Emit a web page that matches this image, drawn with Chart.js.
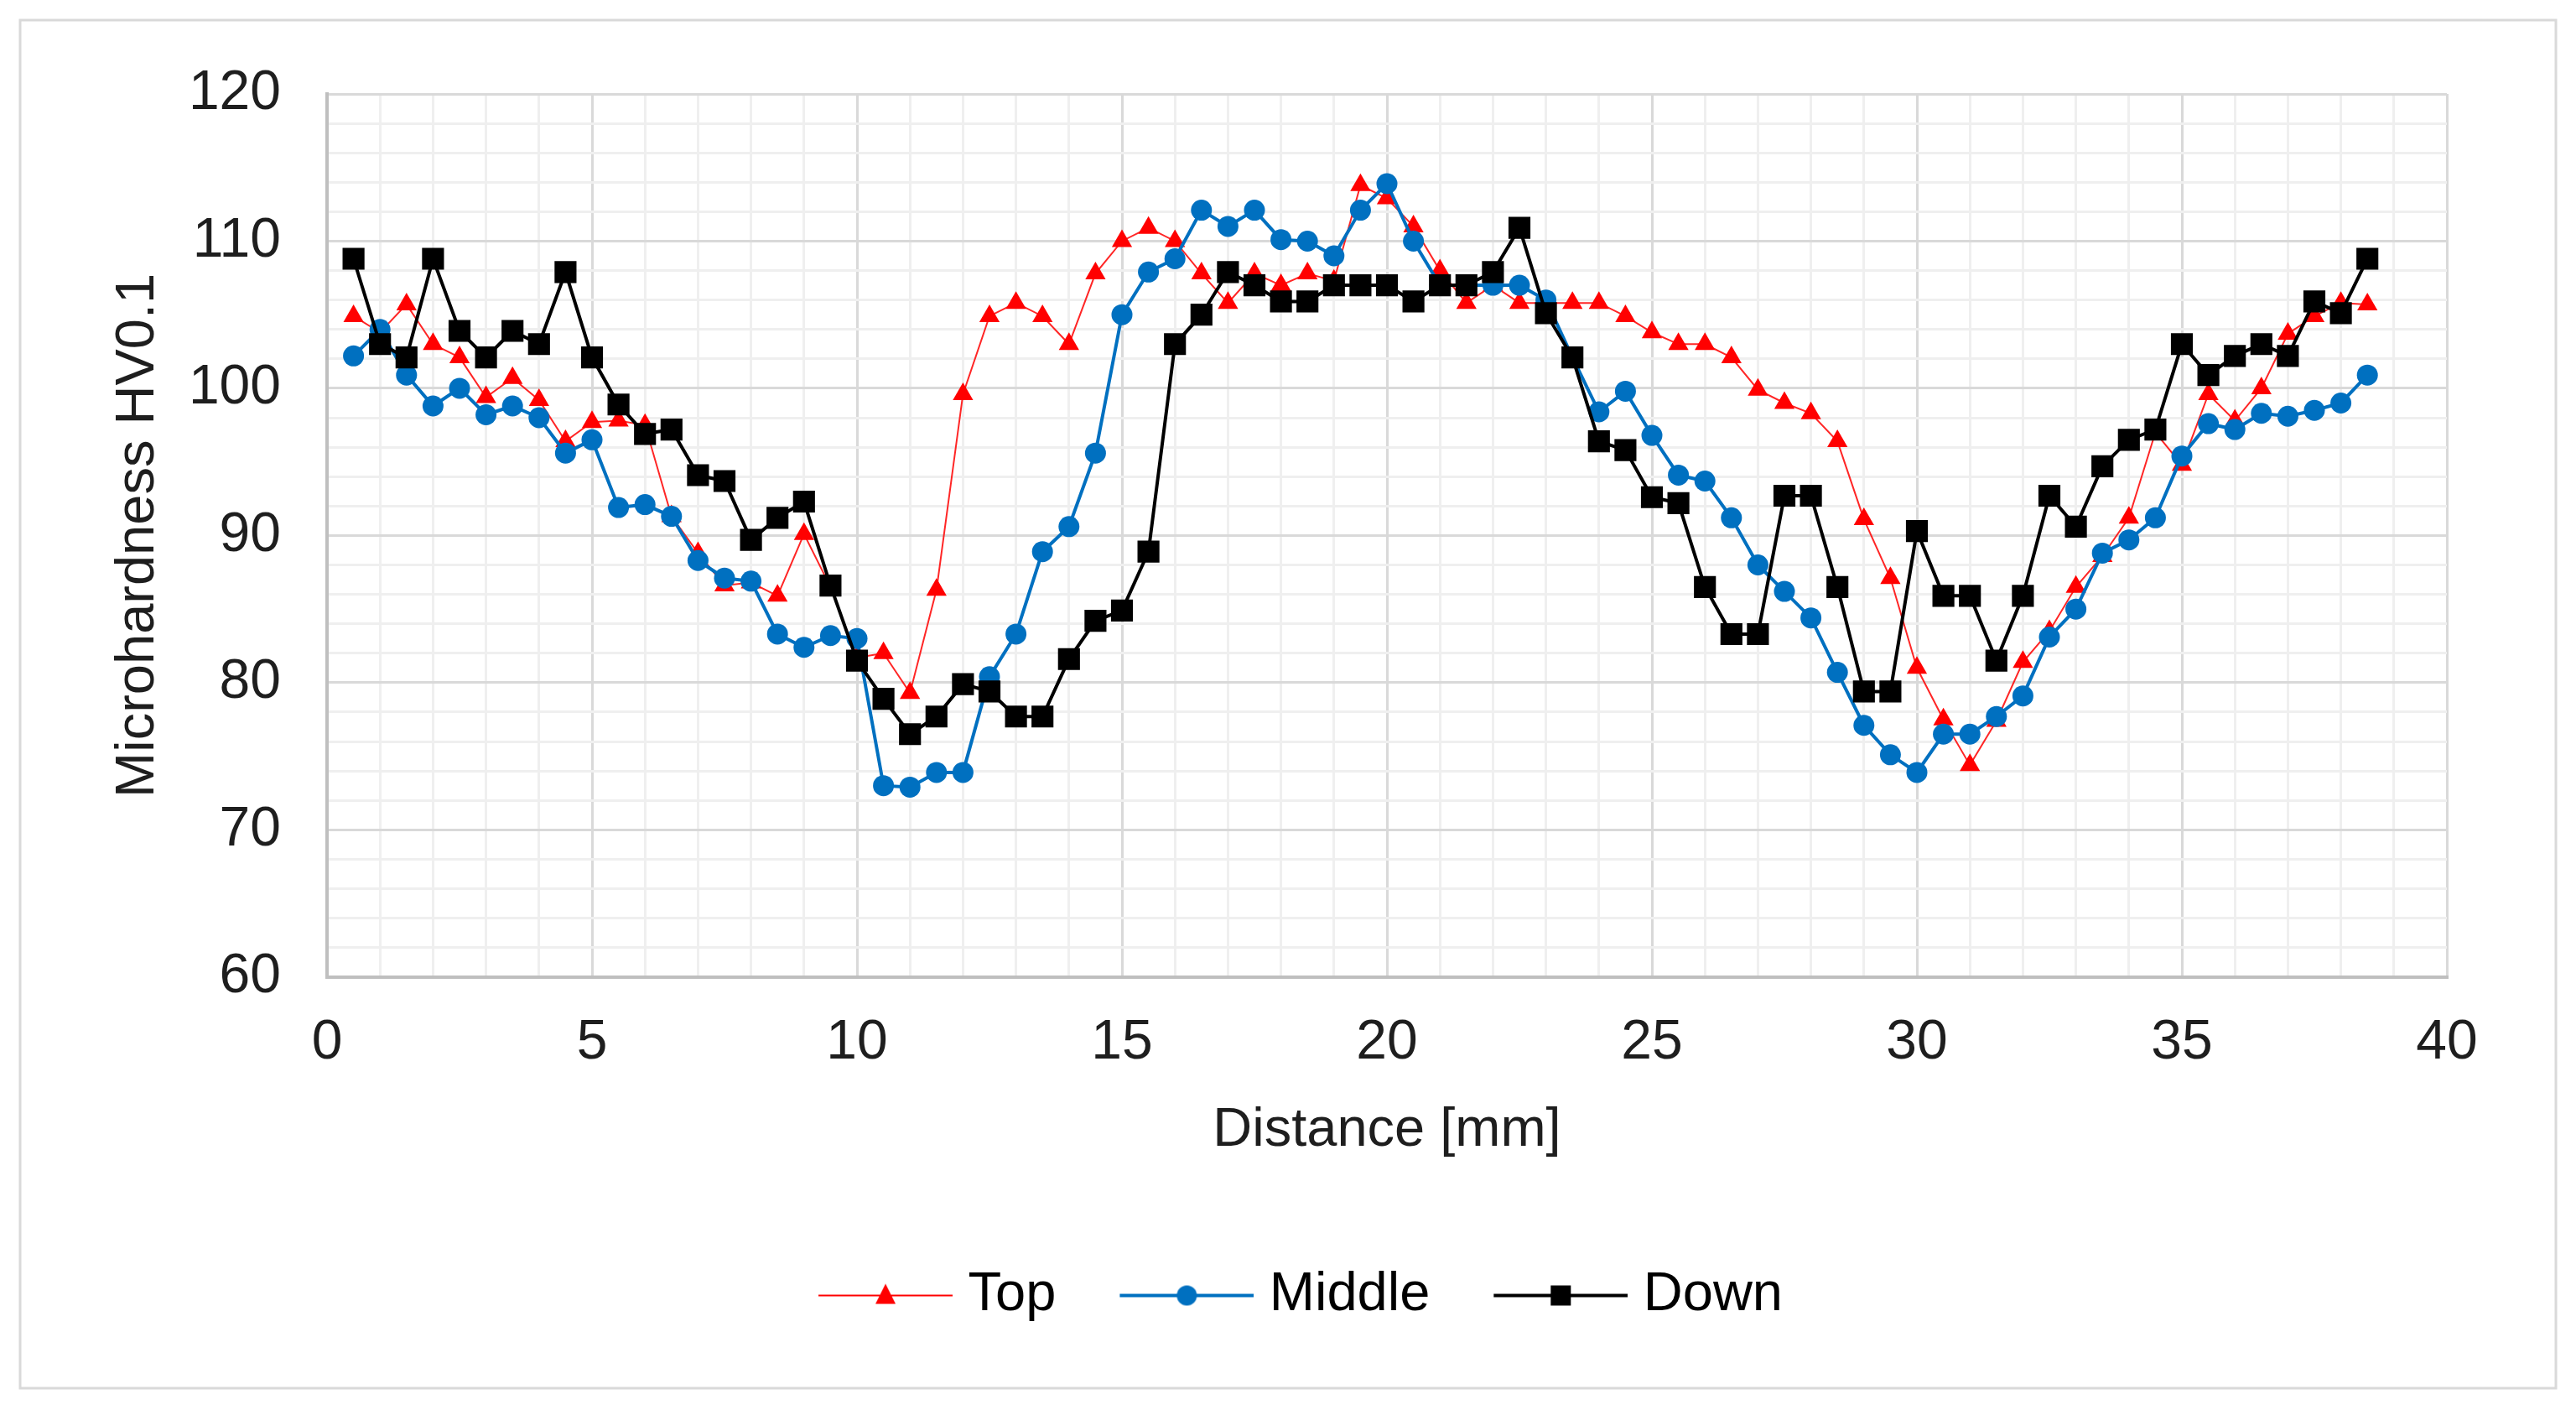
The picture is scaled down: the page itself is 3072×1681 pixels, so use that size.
<!DOCTYPE html>
<html>
<head>
<meta charset="utf-8">
<title>Microhardness profile</title>
<script src="https://cdn.jsdelivr.net/npm/chart.js@4.4.1/dist/chart.umd.min.js"></script>
<style>
  html, body { margin: 0; padding: 0; background: #ffffff; }
  #chart { display: block; }
</style>
</head>
<body>
<canvas id="chart" width="3072" height="1681"></canvas>
<script>
// --- Data ---
const distanceMm = [
  0.5, 1.0, 1.5, 2.0, 2.5, 3.0, 3.5, 4.0, 4.5, 5.0,
  5.5, 6.0, 6.5, 7.0, 7.5, 8.0, 8.5, 9.0, 9.5, 10.0,
  10.5, 11.0, 11.5, 12.0, 12.5, 13.0, 13.5, 14.0, 14.5, 15.0,
  15.5, 16.0, 16.5, 17.0, 17.5, 18.0, 18.5, 19.0, 19.5, 20.0,
  20.5, 21.0, 21.5, 22.0, 22.5, 23.0, 23.5, 24.0, 24.5, 25.0,
  25.5, 26.0, 26.5, 27.0, 27.5, 28.0, 28.5, 29.0, 29.5, 30.0,
  30.5, 31.0, 31.5, 32.0, 32.5, 33.0, 33.5, 34.0, 34.5, 35.0,
  35.5, 36.0, 36.5, 37.0, 37.5, 38.0, 38.5
];

const topHV = [
  104.9, 103.8, 105.7, 103.0, 102.1, 99.4, 100.7, 99.2, 96.4, 97.7,
  97.8, 97.5, 91.3, 88.8, 86.6, 86.8, 85.9, 90.1, 86.5, 81.7,
  82.0, 79.3, 86.3, 99.6, 104.9, 105.8, 104.9, 103.0, 107.8, 110.0,
  110.9, 110.0, 107.8, 105.8, 107.8, 107.0, 107.8, 107.3, 113.8, 112.9,
  111.0, 108.0, 105.8, 107.0, 105.8, 105.8, 105.8, 105.8, 104.9, 103.8,
  103.0, 103.0, 102.1, 99.9, 99.0, 98.3, 96.4, 91.1, 87.1, 81.0,
  77.5, 74.4, 77.4, 81.4, 83.5, 86.5, 88.6, 91.2, 97.0, 94.8,
  99.6, 97.8, 100.0, 103.7, 104.9, 105.8, 105.7
];

const middleHV = [
  102.2, 104.0, 100.9, 98.8, 100.0, 98.2, 98.8, 98.0, 95.6, 96.5,
  91.9, 92.1, 91.3, 88.3, 87.1, 86.9, 83.3, 82.4, 83.2, 83.0,
  73.0, 72.9, 73.9, 73.9, 80.4, 83.3, 88.9, 90.6, 95.6, 105.0,
  107.9, 108.8, 112.1, 111.0, 112.1, 110.1, 110.0, 109.0, 112.1, 113.9,
  110.0, 107.0, 107.0, 107.0, 107.0, 106.0, 102.1, 98.4, 99.8, 96.8,
  94.1, 93.7, 91.2, 88.0, 86.2, 84.4, 80.7, 77.1, 75.1, 73.9,
  76.5, 76.5, 77.7, 79.1, 83.1, 85.0, 88.8, 89.7, 91.2, 95.4,
  97.6, 97.2, 98.3, 98.1, 98.5, 99.0, 100.9
];

const downHV = [
  108.8, 103.0, 102.1, 108.8, 103.9, 102.1, 103.9, 103.0, 107.9, 102.1,
  98.9, 96.9, 97.2, 94.1, 93.7, 89.7, 91.2, 92.3, 86.6, 81.5,
  78.9, 76.5, 77.7, 79.9, 79.4, 77.7, 77.7, 81.6, 84.2, 84.9,
  88.9, 103.0, 105.0, 107.9, 107.0, 105.9, 105.9, 107.0, 107.0, 107.0,
  105.9, 107.0, 107.0, 107.9, 110.9, 105.1, 102.1, 96.4, 95.8, 92.6,
  92.2, 86.5, 83.3, 83.3, 92.7, 92.7, 86.5, 79.4, 79.4, 90.3,
  85.9, 85.9, 81.5, 85.9, 92.7, 90.6, 94.7, 96.5, 97.2, 103.0,
  100.9, 102.2, 103.0, 102.2, 105.9, 105.1, 108.8
];

const seriesNames = ['Top', 'Middle', 'Down'];
const xMin = 0, xMax = 40, xMajor = 5;
const yMin = 60, yMax = 120, yMajor = 10, yMinor = 2;

// --- Styles ---
const RED = '#ff0000';
const BLUE = '#0070c0';
const BLACK = '#000000';
const FONT = '"Liberation Sans", Arial, sans-serif';
const TEXT = '#1e1e1e';
const GRID_MAJOR = '#d9d9d9';
const GRID_MINOR = '#efefef';

Chart.defaults.font.family = FONT;
Chart.defaults.color = TEXT;

// --- Helper Functions ---
function toPoints(values) {
  return distanceMm.map((x, i) => ({ x: x, y: values[i] }));
}

// legend symbol: a line with the marker in its middle, drawn on the right
// part of a wider transparent canvas so the text sits close to it
function legendSymbol(color, lineWidth, marker) {
  const c = document.createElement('canvas');
  c.width = 180; c.height = 40;
  const g = c.getContext('2d');
  const x0 = 20, x1 = 180, cx = 100;
  g.strokeStyle = color; g.fillStyle = color; g.lineWidth = lineWidth;
  g.beginPath(); g.moveTo(x0, 20); g.lineTo(x1, 20); g.stroke();
  g.beginPath();
  if (marker === 'triangle') {
    g.moveTo(cx, 6); g.lineTo(cx + 12, 30); g.lineTo(cx - 12, 30); g.closePath();
  } else if (marker === 'circle') {
    g.arc(cx, 20, 12, 0, Math.PI * 2);
  } else {
    g.rect(cx - 12, 8, 24, 24);
  }
  g.fill();
  return c;
}

const legendSymbols = [
  legendSymbol(RED, 2, 'triangle'),
  legendSymbol(BLUE, 4, 'circle'),
  legendSymbol(BLACK, 4, 'rect')
];

// white page and the light frame around the whole chart
const framePlugin = {
  id: 'frame',
  beforeDraw(chart) {
    const ctx = chart.ctx;
    ctx.save();
    ctx.fillStyle = '#ffffff';
    ctx.fillRect(0, 0, chart.width, chart.height);
    ctx.strokeStyle = '#d9d9d9';
    ctx.lineWidth = 3;
    ctx.strokeRect(24, 24, chart.width - 48, chart.height - 50);
    ctx.restore();
  }
};

// the legend is centred on the page, not on the plot: nudge it a little
const legendShift = {
  id: 'legendShift',
  afterLayout(chart) {
    if (chart.legend) {
      chart.legend.left += 34;
      chart.legend.right += 34;
    }
  }
};

// --- Chart ---
const chart = new Chart(document.getElementById('chart'), {
  type: 'line',
  data: {
    datasets: [
      {
        label: seriesNames[0],
        data: toPoints(topHV),
        borderColor: 'rgba(255, 0, 0, 0.85)',
        backgroundColor: RED,
        borderWidth: 2,
        pointStyle: 'triangle',
        pointRadius: 14,
        pointBorderWidth: 0,
        pointBackgroundColor: RED,
        order: 3
      },
      {
        label: seriesNames[1],
        data: toPoints(middleHV),
        borderColor: BLUE,
        backgroundColor: BLUE,
        borderWidth: 4,
        pointStyle: 'circle',
        pointRadius: 12.5,
        pointBorderWidth: 0,
        pointBackgroundColor: BLUE,
        order: 2
      },
      {
        label: seriesNames[2],
        data: toPoints(downHV),
        borderColor: BLACK,
        backgroundColor: BLACK,
        borderWidth: 4,
        pointStyle: 'rect',
        pointRadius: 18.5,
        pointBorderWidth: 0,
        pointBackgroundColor: BLACK,
        order: 1
      }
    ]
  },
  options: {
    responsive: false,
    animation: false,
    devicePixelRatio: 1,
    layout: { padding: { left: 110, right: 154, top: 112, bottom: 94 } },
    plugins: {
      tooltip: { enabled: false },
      legend: {
        position: 'bottom',
        labels: {
          usePointStyle: true,
          pointStyleWidth: 152,
          padding: 70,
          color: TEXT,
          font: { size: 65 },
          generateLabels: (chart) => chart.data.datasets.map((ds, i) => ({
            text: ds.label,
            pointStyle: legendSymbols[i],
            fillStyle: ds.borderColor,
            strokeStyle: ds.borderColor,
            lineWidth: 0,
            hidden: false,
            datasetIndex: i
          }))
        }
      }
    },
    scales: {
      x: {
        type: 'linear',
        min: xMin,
        max: xMax,
        ticks: {
          stepSize: 1,
          autoSkip: false,
          maxRotation: 0,
          padding: 39,
          font: { size: 66 },
          color: TEXT,
          callback: (v) => (v % xMajor === 0 ? v : '')
        },
        grid: {
          drawTicks: false,
          lineWidth: 3,
          color: (ctx) => (ctx.tick && ctx.tick.value % xMajor === 0 ? GRID_MAJOR : GRID_MINOR)
        },
        border: { color: '#bfbfbf', width: 4 },
        title: {
          display: true,
          text: 'Distance [mm]',
          font: { size: 65 },
          color: TEXT,
          padding: { top: -13, bottom: 55 }
        }
      },
      y: {
        min: yMin,
        max: yMax,
        ticks: {
          stepSize: yMinor,
          autoSkip: false,
          padding: 55,
          font: { size: 66 },
          color: TEXT,
          callback: (v) => (v % yMajor === 0 ? v : '')
        },
        grid: {
          drawTicks: false,
          lineWidth: 3,
          color: (ctx) => (ctx.tick && ctx.tick.value % yMajor === 0 ? GRID_MAJOR : GRID_MINOR)
        },
        border: { color: '#bfbfbf', width: 4 },
        title: {
          display: true,
          text: 'Microhardness HV0.1',
          font: { size: 65 },
          color: TEXT,
          padding: { top: 16, bottom: 0 }
        },
        afterFit: (scale) => { scale.width = 280; }
      }
    }
  },
  plugins: [framePlugin, legendShift]
});
</script>
</body>
</html>
